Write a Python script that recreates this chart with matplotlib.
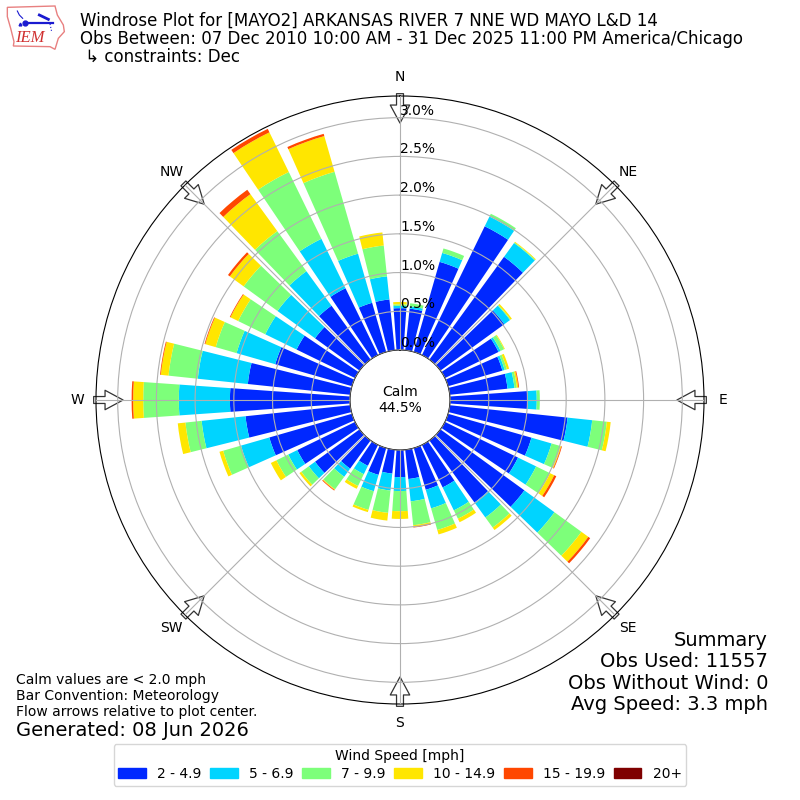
import numpy as np
import matplotlib
matplotlib.use("Agg")
import matplotlib.pyplot as plt
from matplotlib.patches import Patch, Polygon

# direction bins, every 10 degrees starting at north
directions = np.arange(0, 360, 10)

# percent of observations per speed class, one value per direction
speed_2_5 = [.54, .54, 1.21, 1.85, 1.64, 1.02, .77, .73, .75, 1.0, 1.53, 1.12,
             1.05, 1.34, .99, .61, .56, .38, .35, .31, .36, .30, .45, .71,
             .83, 1.11, 1.36, 1.55, 1.33, 1.03, .84, .71, .86, .96, .66, .66]
speed_5_7 = [.03, .03, .12, .14, .22, .09, .03, .03, .09, .12, .32, .27,
             .26, .48, .24, .33, .25, .29, .18, .22, .22, .12, .13, .10,
             .13, .38, .57, .66, .65, .52, .45, .60, .55, .71, .66, .30]
speed_7_10 = [.02, .04, .06, .04, .01, .01, .05, .03, .03, .04, .19, .12,
              .20, .43, .16, .12, .29, .31, .26, .29, .25, .17, .20, .12,
              .17, .24, .21, .46, .38, .28, .39, .54, .64, .96, 1.10, .40]
speed_10_15 = [.03, 0, 0, 0, .01, .02, .01, .03, .02, 0, .05, .01,
               .06, .11, .04, .05, .06, .02, .10, .10, .03, .04, .01, .03,
               .08, .05, .10, .13, .10, .14, .11, .22, .59, .57, .48, .17]
speed_15_20 = [0, 0, 0, 0, 0, 0, 0, 0, .01, 0, 0, .01,
               .03, .03, 0, 0, 0, .01, 0, 0, 0, 0, .01, 0,
               0, 0, 0, .02, .01, .01, .01, .03, .07, .05, .03, 0]
speed_20_up = [0] * 36

speed_values = [speed_2_5, speed_5_7, speed_7_10, speed_10_15, speed_15_20, speed_20_up]
speed_labels = ["2 - 4.9", "5 - 6.9", "7 - 9.9", "10 - 14.9", "15 - 19.9", "20+"]
speed_colors = ["#0028ff", "#00d4ff", "#7dff7a", "#ffe600", "#ff4700", "#7f0000"]

ring_ticks = [0.0, 0.5, 1.0, 1.5, 2.0, 2.5, 3.0]
compass_angles = [0, 45, 90, 135, 180, 225, 270, 315]
compass_labels = ["N", "NE", "E", "SE", "S", "SW", "W", "NW"]

fig = plt.figure(figsize=(8, 8), dpi=100)
ax = fig.add_axes([0.12, 0.12, 0.76, 0.76], projection="polar")
ax.set_theta_zero_location("N")
ax.set_theta_direction(-1)

# stacked bars
theta = np.radians(directions)
bottom = np.zeros(36)
for vals, color in zip(speed_values, speed_colors):
    ax.bar(theta, vals, width=np.radians(8), bottom=bottom, color=color, linewidth=0, zorder=2)
    bottom += np.array(vals)

ax.set_rorigin(-0.646)
ax.set_ylim(0, 3.28)
ax.set_yticks(ring_ticks)
ax.set_yticklabels(["%.1f%%" % v for v in ring_ticks])
ax.set_rlabel_position(0)
ax.set_xticks(np.radians(compass_angles))
ax.set_xticklabels(compass_labels)
ax.tick_params(axis="x", pad=3)
ax.grid(True, zorder=3)
ax.set_axisbelow(False)

# flow arrows on the compass spokes, under the tick labels
for ang in compass_angles:
    ax.annotate("", xy=(np.radians(ang), 2.93), xytext=(np.radians(ang), 3.31),
                annotation_clip=False, zorder=1,
                arrowprops=dict(facecolor="white", edgecolor="#333333", linewidth=0.9,
                                width=5, headwidth=14, headlength=13, shrink=0))

fig.text(0.5, 0.5, "Calm\n44.5%", ha="center", va="center", fontsize=10)

# header
fig.text(0.1, 0.9735, "Windrose Plot for [MAYO2] ARKANSAS RIVER 7 NNE WD MAYO L&D 14",
         fontsize=12, va="center")
fig.text(0.1, 0.9515, "Obs Between: 07 Dec 2010 10:00 AM - 31 Dec 2025 11:00 PM America/Chicago",
         fontsize=12, va="center")
fig.text(0.1, 0.9295, " \u21b3 constraints: Dec", fontsize=12, va="center")

# logo, roughly
logo = fig.add_axes([0, 1 - 50 / 800, 66.67 / 800, 50 / 800])
logo.set_xlim(0, 200)
logo.set_ylim(150, 0)
logo.axis("off")
iowa = [(22, 22), (165, 18), (172, 45), (190, 75), (193, 95), (175, 115), (165, 148),
        (150, 140), (40, 138), (42, 125), (32, 85), (22, 50)]
logo.add_patch(Polygon(iowa, closed=True, facecolor="white", edgecolor="#e88080", linewidth=1))
logo.plot([75, 160], [70, 70], color="#1a1ad0", lw=1.6)
logo.plot([75], [70], "o", color="#1a1ad0", ms=3.5)
logo.plot([60], [72], "^", color="#1a1ad0", ms=2)
logo.plot([118, 145], [45, 58], color="#1a1ad0", lw=2)
logo.plot([52, 58, 68], [33, 45, 55], color="#1a1ad0", lw=0.8)
logo.plot([150, 155], [72, 95], color="#1a1ad0", lw=0.8, ls=":")
logo.text(90, 115, "IEM", color="#d03030", fontsize=12, family="Liberation Serif",
          style="italic", ha="center", va="center")

# notes lower left
fig.text(0.02, 0.15, "Calm values are < 2.0 mph", fontsize=10, va="center")
fig.text(0.02, 0.13, "Bar Convention: Meteorology", fontsize=10, va="center")
fig.text(0.02, 0.11, "Flow arrows relative to plot center.", fontsize=10, va="center")
fig.text(0.02, 0.0875, "Generated: 08 Jun 2026", fontsize=14, va="center")

# summary lower right
fig.text(0.96, 0.2, "Summary", fontsize=14, ha="right", va="center")
fig.text(0.96, 0.173, "Obs Used: 11557", fontsize=14, ha="right", va="center")
fig.text(0.96, 0.146, "Obs Without Wind: 0", fontsize=14, ha="right", va="center")
fig.text(0.96, 0.119, "Avg Speed: 3.3 mph", fontsize=14, ha="right", va="center")

handles = [Patch(color=c, label=l) for c, l in zip(speed_colors, speed_labels)]
fig.legend(handles=handles, title="Wind Speed [mph]", ncol=6, loc="lower center",
           bbox_to_anchor=(0.5, 0.009), fontsize=10, title_fontsize=10, columnspacing=0.62,
           labelspacing=0.3, borderpad=0.35)

fig.savefig("out.png", dpi=100)
